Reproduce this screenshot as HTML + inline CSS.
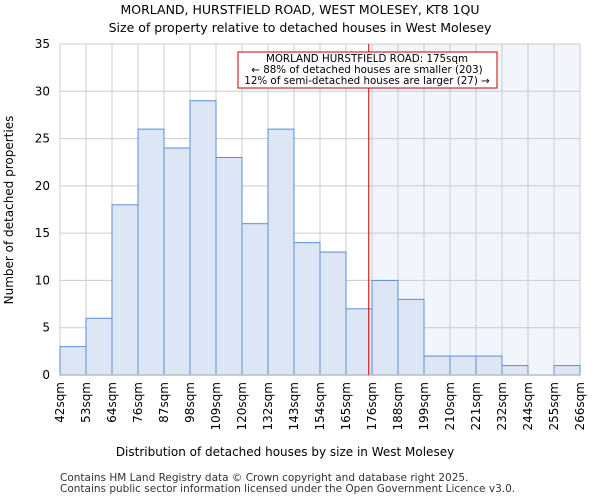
<!DOCTYPE html>
<html><head><meta charset="utf-8"><style>
body{margin:0;background:#fff;font-family:"DejaVu Sans","Liberation Sans",sans-serif}
</style></head><body>
<svg id="chart" width="600" height="500" xmlns="http://www.w3.org/2000/svg" font-family="DejaVu Sans, Liberation Sans, sans-serif">
<text x="300" y="14" text-anchor="middle" font-size="12.5">MORLAND, HURSTFIELD ROAD, WEST MOLESEY, KT8 1QU</text>
<text x="300" y="32" text-anchor="middle" font-size="12.5">Size of property relative to detached houses in West Molesey</text>
<g id="plot"></g>
<text x="285" y="456" text-anchor="middle" font-size="12">Distribution of detached houses by size in West Molesey</text>
<text transform="translate(13,210) rotate(-90)" text-anchor="middle" font-size="12">Number of detached properties</text>
<text x="60" y="481" font-size="10.5" fill="#333">Contains HM Land Registry data © Crown copyright and database right 2025.</text>
<text x="60" y="492" font-size="10.5" fill="#333">Contains public sector information licensed under the Open Government Licence v3.0.</text>
</svg>
<script>
const categories=["42sqm","53sqm","64sqm","76sqm","87sqm","98sqm","109sqm","120sqm","132sqm","143sqm","154sqm","165sqm","176sqm","188sqm","199sqm","210sqm","221sqm","232sqm","244sqm","255sqm","266sqm"];
const values=[3,6,18,26,24,29,23,16,26,14,13,7,10,8,2,2,2,1,0,1];
const yTicks=[0,5,10,15,20,25,30,35];
const propertySize=175;
const binStart=42, binEnd=266;
const NS="http://www.w3.org/2000/svg";
const g=document.getElementById('plot');
const X0=60,X1=580,Y0=375,Y1=44;
const bw=(X1-X0)/values.length;
const xi=i=>X0+i*bw;
const y=v=>Y0-(v/35)*(Y0-Y1);
const xs=s=>X0+(s-binStart)/(binEnd-binStart)*(X1-X0);
function el(t,a){const e=document.createElementNS(NS,t);for(const k in a)e.setAttribute(k,a[k]);g.appendChild(e);return e;}
const lx=xs(propertySize);
let e=el('rect',{x:lx,y:Y1,width:X1-lx,height:Y0-Y1,fill:'#f3f5fc'});


yTicks.forEach(t=>{
 let l=el('line',{x1:X0,x2:X1,y1:y(t),y2:y(t),stroke:'#ccc','stroke-width':1});
 
 
 let tx=el('text',{x:X0-10,y:y(t)+4,'text-anchor':'end','font-size':12});
 tx.textContent=t;
 
 
});
categories.forEach((c,i)=>{
 let l=el('line',{x1:xi(i),x2:xi(i),y1:Y1,y2:Y0,stroke:'#ccc','stroke-width':1});
 
 
 let tx=el('text',{transform:`translate(${xi(i)+4},382) rotate(-90)`,'text-anchor':'end','font-size':12});
 tx.textContent=c;
 
 
});
values.forEach((v,i)=>{
 if(v<=0)return;
 let r=el('rect',{x:xi(i),y:y(v),width:bw,height:Y0-y(v),fill:'#dce6f4',stroke:'#5b8fd6','stroke-width':1});
 
 
});
let ax=el('line',{x1:X0,x2:X1,y1:Y0,y2:Y0,stroke:'#bbb','stroke-width':1.5});


let rl=el('line',{x1:lx,x2:lx,y1:Y1,y2:Y0,stroke:'#c00','stroke-width':1});


let box=el('rect',{x:238,y:52,width:259,height:36,fill:'#fff',stroke:'#c00','stroke-width':1});


["MORLAND HURSTFIELD ROAD: 175sqm","← 88% of detached houses are smaller (203)","12% of semi-detached houses are larger (27) →"].forEach((s,i)=>{
 let t=el('text',{x:367,y:62+i*11,'text-anchor':'middle','font-size':10.3});
 t.textContent=s;
 
 
});
</script>
</body></html>
